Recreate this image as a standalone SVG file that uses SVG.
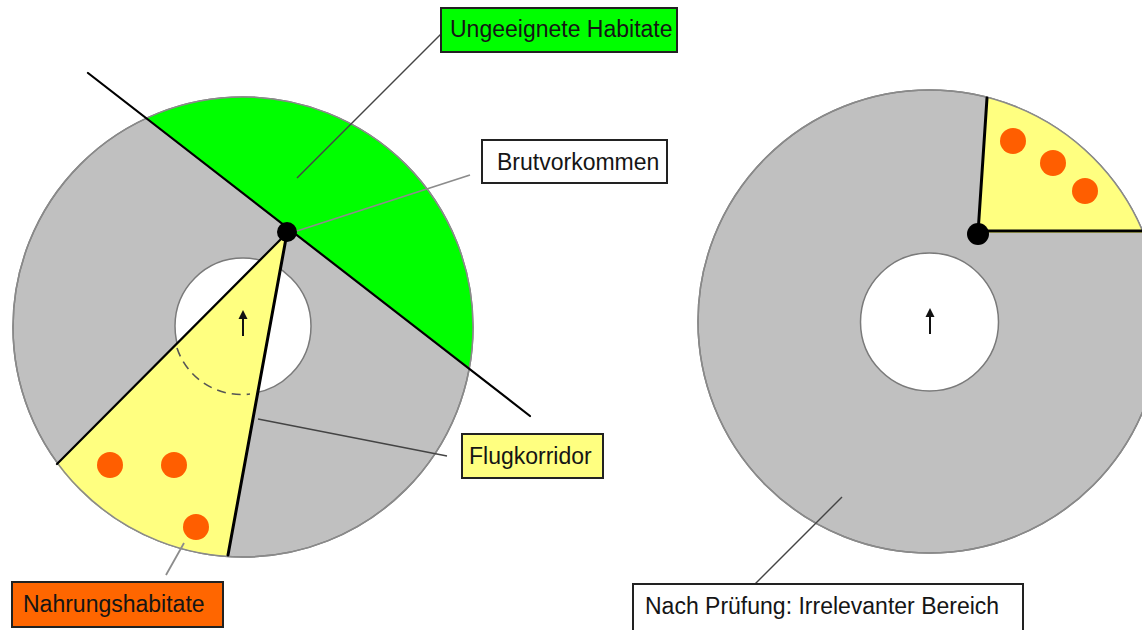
<svg xmlns="http://www.w3.org/2000/svg" width="1142" height="630" viewBox="0 0 1142 630">
<style>
.ring{fill:#C0C0C0;stroke:#7a7a7a;stroke-width:1.5}
.hole{fill:#FFFFFF;stroke:#7a7a7a;stroke-width:1.5}
.rim{fill:none;stroke:#8a8a8a;stroke-width:1.5}
.green{fill:#00FF00}
.yellow{fill:#FFFF80}
.food{fill:#FF5E00}
.bold{stroke:#000;stroke-width:3;fill:none;stroke-linecap:round}
.thin{stroke:#000;stroke-width:2.2;fill:none;stroke-linecap:round}
.lead{stroke:#444;stroke-width:1.4;fill:none}
.leadlight{stroke:#8c8c8c;stroke-width:1.8;fill:none}
.box{stroke:#222;stroke-width:2}
.lbl{font-family:"Liberation Sans",Arial,sans-serif;font-size:23px;fill:#151515}
.dash{fill:none;stroke:#555;stroke-width:1.6;stroke-dasharray:9 6}
</style>
<defs>
<g id="uparrow">
<line x1="0" y1="-4" x2="0" y2="14" stroke="#111" stroke-width="2"/>
<polygon points="0,-12 -4.5,-3 4.5,-3" fill="#111"/>
</g>
</defs>

<g id="left-diagram">
<circle class="ring" cx="243" cy="327" r="230"/>
<circle class="hole" cx="243" cy="326" r="68"/>
<path class="green" d="M146.5 118.2 A230 230 0 0 1 469.3 368 Z"/>
<path class="yellow" d="M287 233 L57 464 A230 230 0 0 0 228 556 Z"/>
<circle class="rim" cx="243" cy="327" r="230"/>
<path class="dash" d="M177 348 A68 68 0 0 0 250 394"/>
<use href="#uparrow" x="243" y="322"/>
<circle class="food" cx="110" cy="465" r="13"/>
<circle class="food" cx="174" cy="465" r="13"/>
<circle class="food" cx="196" cy="527" r="13"/>
<line class="thin" x1="88" y1="73" x2="530" y2="416"/>
<line class="thin" x1="287" y1="233" x2="57" y2="464"/>
<line class="bold" x1="287" y1="233" x2="228" y2="555"/>
<circle cx="287" cy="232" r="10" fill="#000"/>
</g>

<g id="right-diagram">
<circle class="ring" cx="929.5" cy="321.5" r="231.5"/>
<circle class="hole" cx="929.5" cy="322" r="69"/>
<path class="yellow" d="M978 233 L987 97 A231.5 231.5 0 0 1 1143.4 233 Z"/>
<circle class="rim" cx="929.5" cy="321.5" r="231.5"/>
<use href="#uparrow" x="930" y="320"/>
<circle class="food" cx="1013" cy="141" r="13"/>
<circle class="food" cx="1053" cy="163" r="13"/>
<circle class="food" cx="1085" cy="191" r="13"/>
<line class="bold" x1="978" y1="233" x2="987" y2="98"/>
<line class="bold" x1="978" y1="231" x2="1142" y2="231"/>
<circle cx="978" cy="234" r="11" fill="#000"/>
</g>

<g id="connectors">
<line class="lead" x1="442" y1="33" x2="297" y2="178"/>
<line class="leadlight" x1="470" y1="175" x2="297" y2="231"/>
<line class="lead" x1="447" y1="456" x2="258" y2="419"/>
<line class="leadlight" x1="184" y1="543" x2="166" y2="575"/>
<line class="lead" x1="842" y1="497" x2="755" y2="584"/>
</g>

<g id="label-ungeeignete">
<rect class="box" x="441" y="8" width="236" height="44" fill="#00FF00"/>
<text class="lbl" x="450" y="37" fill="#0a2a0a">Ungeeignete Habitate</text>
</g>
<g id="label-brutvorkommen">
<rect class="box" x="482" y="140" width="185" height="43" fill="#FFFFFF"/>
<text class="lbl" x="497" y="170">Brutvorkommen</text>
</g>
<g id="label-flugkorridor">
<rect class="box" x="462" y="434" width="141" height="44" fill="#FFFF80"/>
<text class="lbl" x="469" y="464">Flugkorridor</text>
</g>
<g id="label-nahrung">
<rect class="box" x="12" y="582" width="211" height="45" fill="#FF6600"/>
<text class="lbl" x="23" y="612" fill="#2a0d00">Nahrungshabitate</text>
</g>
<g id="label-irrelevant">
<rect class="box" x="633" y="584" width="390" height="60" fill="#FFFFFF"/>
<text class="lbl" x="645" y="614">Nach Prüfung: Irrelevanter Bereich</text>
</g>
</svg>
